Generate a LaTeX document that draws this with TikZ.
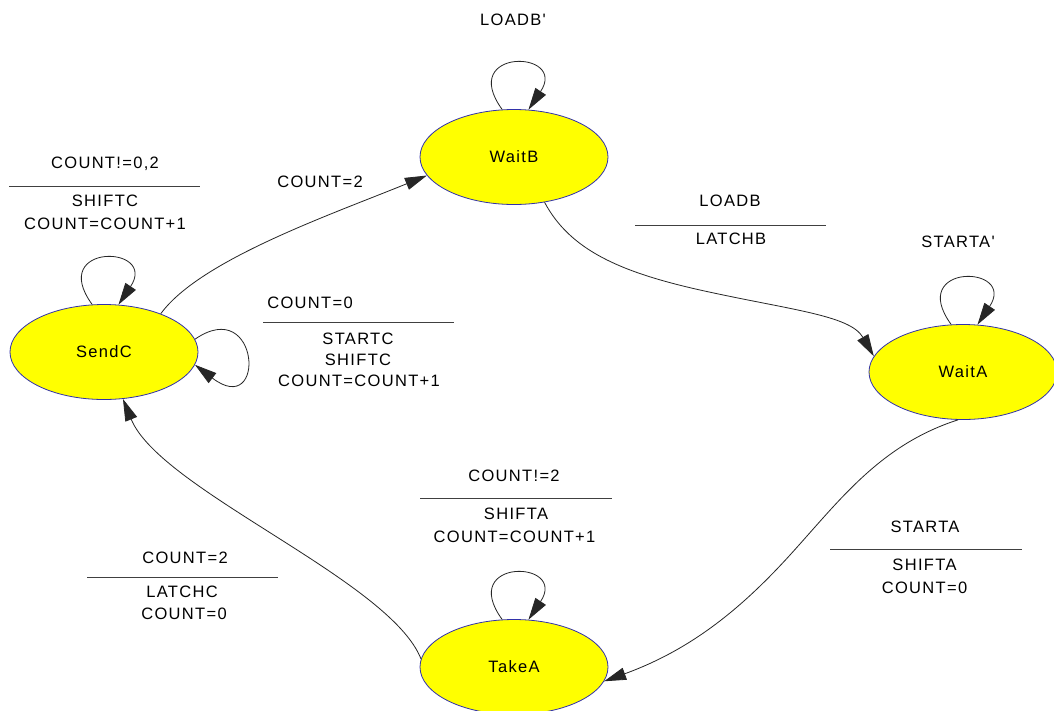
\documentclass[tikz,border=0pt]{standalone}
\usepackage{fontspec}
\newfontfamily\lsfam{Liberation Sans}[LetterSpace=8]
\newcommand\myfnt{\lsfam\fontsize{16.5}{19}\selectfont}
\usetikzlibrary{arrows.meta,shapes.geometric}
\definecolor{stfill}{RGB}{255,255,0}
\definecolor{stline}{RGB}{50,50,170}
\begin{document}
\begin{tikzpicture}[x=1pt,y=-1pt,
  state/.style={ellipse, draw=stline, fill=stfill, line width=0.8pt,
    minimum width=188pt, minimum height=95pt, inner sep=0pt, font=\myfnt},
  lbl/.style={anchor=base, inner sep=0pt, font=\myfnt},
  edge/.style={draw=black!85, line width=0.8pt, -{Triangle[length=22pt,width=12.5pt]}},
  bar/.style={draw=black!75, line width=1pt}]
\useasboundingbox (0,0) rectangle (1054,710);
\fill[white] (0,0) rectangle (1054,710);

% states
\node[state] (sendc) at (104,352) {SendC};
\node[state] (waitb) at (514,157) {WaitB};
\node[state] (waita) at (963,372) {WaitA};
\node[state] (takea) at (514,667) {TakeA};

% self loops
\draw[edge] (sendc.104) .. controls +(-45,-62) and +(40,-60) .. (sendc.73);
\draw[edge] (sendc.8) .. controls +(65,-45) and +(72,55) .. (sendc.-8);
\draw[edge] (waitb.104) .. controls +(-45,-62) and +(40,-60) .. (waitb.73);
\draw[edge] (waita.104) .. controls +(-45,-62) and +(40,-60) .. (waita.73);
\draw[edge] (takea.104) .. controls +(-45,-62) and +(40,-60) .. (takea.73);

% transitions
\draw[edge] (sendc.34) .. controls (200,260) and (330,215) .. (waitb.192);
\draw[edge] (waitb.-56) .. controls (570,250) and (620,272) .. (700,290)
  .. controls (790,310) and (850,315) .. (waita.170);
\draw[edge] (waita.264) .. controls (880,445) and (840,500) .. (790,555)
  .. controls (740,610) and (690,650) .. (takea.-9);
\draw[edge] (takea.175) .. controls (390,580) and (160,490) .. (sendc.-68);

% labels
\node[lbl] (l1) at (513,25) {LOADB'};
\node[lbl] (l2) at (958,247) {STARTA'};

\node[lbl] (a1) at (105,168) {COUNT!=0,2};
\draw[bar] (9,186.5) -- (200,186.5);
\node[lbl] (a2) at (105,206.5) {SHIFTC};
\node[lbl] (a3) at (105,229.5) {COUNT=COUNT+1};

\node[lbl] (b1) at (320,187.5) {COUNT=2};

\node[lbl] (c1) at (310,308) {COUNT=0};
\draw[bar] (263,322.5) -- (454,322.5);
\node[lbl] (c2) at (358,344) {STARTC};
\node[lbl] (c3) at (358,365) {SHIFTC};
\node[lbl] (c4) at (359,386) {COUNT=COUNT+1};

\node[lbl] (d1) at (730,206.5) {LOADB};
\draw[bar] (635,225) -- (826,225);
\node[lbl] (d2) at (731,244) {LATCHB};

\node[lbl] (e1) at (514,481.5) {COUNT!=2};
\draw[bar] (420,498) -- (612,498);
\node[lbl] (e2) at (516,519) {SHIFTA};
\node[lbl] (e3) at (514.5,542) {COUNT=COUNT+1};

\node[lbl] (f1) at (925,532) {STARTA};
\draw[bar] (830,549) -- (1022,549);
\node[lbl] (f2) at (924.5,570.5) {SHIFTA};
\node[lbl] (f3) at (924.5,593) {COUNT=0};

\node[lbl] (g1) at (185,563) {COUNT=2};
\draw[bar] (87,577.5) -- (278,577.5);
\node[lbl] (g2) at (182,597.5) {LATCHC};
\node[lbl] (g3) at (184,619) {COUNT=0};
\end{tikzpicture}
\end{document}
